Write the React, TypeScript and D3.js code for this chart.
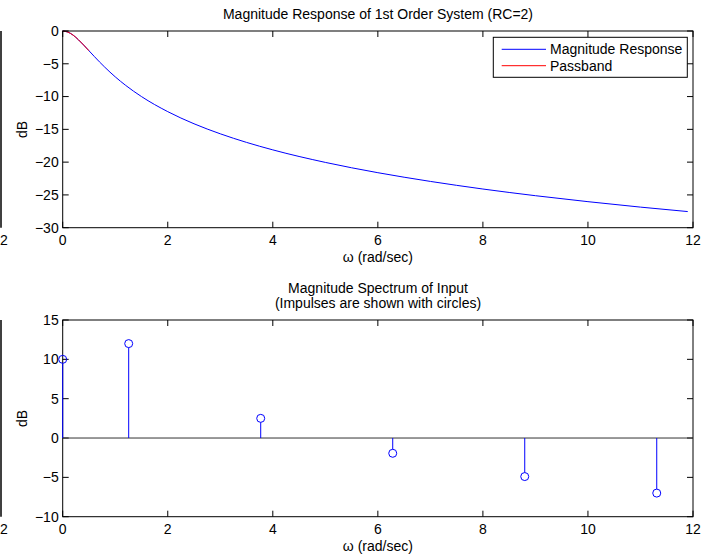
import React from "react";
import * as d3 from "d3";

// ---- Data ----
const respOmega = [0, 0.1, 0.2, 0.3, 0.4, 0.5, 0.6, 0.7, 0.8, 1.0, 1.2, 1.5, 2, 2.5, 3, 3.5, 4, 5, 6, 7, 8, 9, 10, 11, 11.9];
const respDb = [0, -0.17, -0.64, -1.34, -2.15, -3.01, -3.87, -4.71, -5.51, -6.99, -8.3, -10.0, -12.3, -14.15, -15.68, -16.99, -18.13, -20.04, -21.61, -22.94, -24.1, -25.12, -26.03, -26.86, -27.54];
const passOmega = [0, 0.1, 0.2, 0.3, 0.4, 0.5];
const passDb = [0, -0.17, -0.64, -1.34, -2.15, -3.01];

const impulseOmega = [0, 1.2566, 3.7699, 6.2832, 8.7965, 11.3097];
const impulseDb = [10, 12, 2.5, -1.94, -4.9, -7.0];

const xTicks = [0, 2, 4, 6, 8, 10, 12];
const yTicksTop = [0, -5, -10, -15, -20, -25, -30];
const yTicksBottom = [15, 10, 5, 0, -5, -10];

const legendLabels = ["Magnitude Response", "Passband"];
const topTitle = "Magnitude Response of 1st Order System (RC=2)";
const bottomTitle = ["Magnitude Spectrum of Input", "(Impulses are shown with circles)"];
const xLabel = "ω (rad/sec)";
const yLabel = "dB";

// ---- Layout ----
const W = 715, H = 558;
const AX_L = 62.7, AX_R = 693;
const TOP = { y0: 31, y1: 227.7 };
const BOT = { y0: 320, y1: 516.7 };
const FONT = "'Liberation Sans', Arial, Helvetica, sans-serif";
const FS = 14;
const TICK = 6;

const fmt = (v: number) => (v < 0 ? "\u2212" + Math.abs(v) : String(v));

function Axes({ y0, y1, yDomain, yTicks }: { y0: number; y1: number; yDomain: [number, number]; yTicks: number[] }) {
  const x = d3.scaleLinear().domain([0, 12]).range([AX_L, AX_R]);
  const y = d3.scaleLinear().domain(yDomain).range([y1, y0]);
  return (
    <g>
      <rect x={AX_L} y={y0} width={AX_R - AX_L} height={y1 - y0} fill="none" stroke="#000" strokeWidth={1} />
      {xTicks.map((t) => (
        <g key={"x" + t}>
          <line x1={x(t)} x2={x(t)} y1={y1} y2={y1 - TICK} stroke="#000" />
          <line x1={x(t)} x2={x(t)} y1={y0} y2={y0 + TICK} stroke="#000" />
          <text x={x(t)} y={y1 + 17} textAnchor="middle" fontSize={FS} fontFamily={FONT}>{fmt(t)}</text>
        </g>
      ))}
      {yTicks.map((t) => (
        <g key={"y" + t}>
          <line x1={AX_L} x2={AX_L + TICK} y1={y(t)} y2={y(t)} stroke="#000" />
          <line x1={AX_R} x2={AX_R - TICK} y1={y(t)} y2={y(t)} stroke="#000" />
          <text x={AX_L - 4} y={y(t)} dy="0.35em" textAnchor="end" fontSize={FS} fontFamily={FONT}>{fmt(t)}</text>
        </g>
      ))}
      <text x={AX_L + (AX_R - AX_L) / 2} y={y1 + 34} textAnchor="middle" fontSize={FS} fontFamily={FONT}>{xLabel}</text>
      <text transform={`translate(27,${(y0 + y1) / 2}) rotate(-90)`} textAnchor="middle" fontSize={FS} fontFamily={FONT}>{yLabel}</text>
      {/* remnant of neighbouring axes at far left */}
      <line x1={1} x2={1} y1={y0} y2={y1} stroke="#000" strokeWidth={1.5} />
      <text x={4} y={y1 + 17} textAnchor="middle" fontSize={FS} fontFamily={FONT}>2</text>
    </g>
  );
}

export default function App() {
  const x = d3.scaleLinear().domain([0, 12]).range([AX_L, AX_R]);
  const yTop = d3.scaleLinear().domain([-30, 0]).range([TOP.y1, TOP.y0]);
  const yBot = d3.scaleLinear().domain([-10, 15]).range([BOT.y1, BOT.y0]);

  const line = d3
    .line<[number, number]>()
    .x((d) => x(d[0]))
    .y((d) => yTop(d[1]))
    .curve(d3.curveMonotoneX);

  const respPts: [number, number][] = respOmega.map((w, i) => [w, respDb[i]]);
  const passPts: [number, number][] = passOmega.map((w, i) => [w, passDb[i]]);

  const legX0 = 493.3, legY0 = 37.3, legW = 194, legH = 40;

  return (
    <svg width={W} height={H} style={{ position: "absolute", left: 0, top: 0, background: "#fff" }}>
      <rect x={0} y={0} width={W} height={H} fill="#fff" />
      {/* Top plot */}
      <text x={378} y={19} textAnchor="middle" fontSize={FS} fontFamily={FONT}>{topTitle}</text>
      <path d={line(respPts) || ""} fill="none" stroke="#0000ff" strokeWidth={1} />
      <path d={line(passPts) || ""} fill="none" stroke="#ff0000" strokeWidth={1} />
      <Axes y0={TOP.y0} y1={TOP.y1} yDomain={[-30, 0]} yTicks={yTicksTop} />
      {/* Legend */}
      <rect x={legX0} y={legY0} width={legW} height={legH} fill="#fff" stroke="#000" strokeWidth={1} />
      {legendLabels.map((lab, i) => {
        const ly = legY0 + 12 + i * 16.4;
        return (
          <g key={lab}>
            <line x1={501.7} x2={546} y1={ly} y2={ly} stroke={i === 0 ? "#0000ff" : "#ff0000"} strokeWidth={1} />
            <text x={550} y={ly} dy="0.35em" fontSize={FS} fontFamily={FONT}>{lab}</text>
          </g>
        );
      })}

      {/* Bottom plot */}
      <text x={378} y={293} textAnchor="middle" fontSize={FS} fontFamily={FONT}>{bottomTitle[0]}</text>
      <text x={378} y={308} textAnchor="middle" fontSize={FS} fontFamily={FONT}>{bottomTitle[1]}</text>
      <Axes y0={BOT.y0} y1={BOT.y1} yDomain={[-10, 15]} yTicks={yTicksBottom} />
      <line x1={AX_L} x2={AX_R} y1={yBot(0)} y2={yBot(0)} stroke="#333" strokeWidth={1} />
      {impulseOmega.map((w, i) => {
        const cy = yBot(impulseDb[i]);
        const r = 4;
        const dir = impulseDb[i] >= 0 ? 1 : -1;
        return (
          <g key={"s" + i}>
            <line x1={x(w)} x2={x(w)} y1={yBot(0)} y2={cy + dir * r} stroke="#0000ff" strokeWidth={1} />
            <circle cx={x(w)} cy={cy} r={r} fill="none" stroke="#0000ff" strokeWidth={1} />
          </g>
        );
      })}
    </svg>
  );
}
